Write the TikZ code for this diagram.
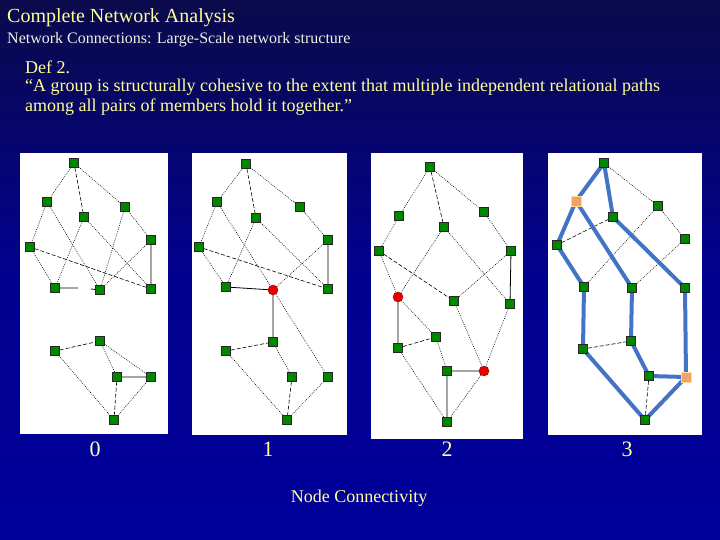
\documentclass[tikz,border=0pt]{standalone}
\usepackage{fontspec}
\setmainfont{Liberation Serif}
\usepackage{xcolor}
\usepackage{tikz}
\pgfdeclarelayer{back}
\pgfdeclarelayer{ties}
\pgfsetlayers{back,ties,main}
\definecolor{navytop}{RGB}{10,10,75}
\definecolor{navybot}{RGB}{0,0,155}
\definecolor{actorgreen}{RGB}{0,135,0}
\definecolor{cutred}{RGB}{232,0,0}
\definecolor{endorange}{RGB}{242,160,110}
\definecolor{endglow}{RGB}{255,225,130}
\definecolor{pathblue}{RGB}{68,114,196}
\definecolor{titleyellow}{RGB}{255,255,153}
\definecolor{subwhite}{RGB}{240,240,228}

\begin{document}
\begin{tikzpicture}[x=1pt,y=-1pt,
actor/.style={draw=black!85,fill=actorgreen,minimum size=9pt,inner sep=0pt,line width=0.5pt},
cut/.style={circle,draw=red!55!black,fill=cutred,minimum size=10pt,inner sep=0pt,line width=0.4pt},
endpt/.style={draw=endglow,fill=endorange,minimum size=10pt,inner sep=0pt,line width=0.8pt},
tie/.style={line width=0.6pt,dash pattern=on 0.8pt off 1.2pt},
tiedash/.style={line width=0.6pt,dash pattern=on 4pt off 2pt},
tiesolid/.style={line width=0.8pt},
route/.style={pathblue,line width=4pt,line join=round,line cap=round},
txt/.style={inner sep=0pt,anchor=base west}]
\begin{pgfonlayer}{back}
\shade[top color=navytop,bottom color=navybot,middle color=navybot!85!navytop] (0,0) rectangle (720,540);
\fill[white] (20,153) rectangle (168,434);
\fill[white] (192,153) rectangle (347,435);
\fill[white] (371,153) rectangle (523,439);
\fill[white] (548,153) rectangle (702,435);
\end{pgfonlayer}
\node[txt,titleyellow,font=\fontsize{20}{24}\selectfont] (title) at (7,23) {Complete Network Analysis};
\node[txt,subwhite,font=\fontsize{16}{19}\selectfont] (subtitle) at (7,44) {Network Connections: Large-Scale network structure};
\node[txt,titleyellow,font=\fontsize{18}{21}\selectfont] (def) at (25,74) {Def 2.};
\node[txt,titleyellow,font=\fontsize{18}{21}\selectfont] (quote1) at (25,92) {``A group is structurally cohesive to the extent that multiple independent relational paths};
\node[txt,titleyellow,font=\fontsize{18}{21}\selectfont] (quote2) at (25,112) {among all pairs of members hold it together.''};

% k = 0
\foreach \n/\x/\y in {a/74/163,b/47/202,c/84/217,d/125/207,e/151/240,f/30/247,g/55/288,h/100/290,i/151/289,
  j/55/351,k/100/341,l/117/377,m/151/377,n/114/420}
  \node[actor] (p0\n) at (\x,\y) {};
\coordinate (p0gl) at (78,288);
\coordinate (p0gr) at (91,289);
% k = 1
\foreach \n/\x/\y in {a/246/164,b/217/202,c/256/218,d/300/207,e/328/240,f/199/247,g/226/287,i/328/289,
  k/273/342,j/226/351,l/292/377,m/328/377,n/287/420}
  \node[actor] (p1\n) at (\x,\y) {};
\node[cut] (p1r) at (273,290) {};
% k = 2
\foreach \n/\x/\y in {a/430/167,b/399/216,d/484/212,c/444/227,f/379/251,e/511/251,g/454/301,i/510/304,
  k/436/337,j/398/348,l/447/371,n/447/422}
  \node[actor] (p2\n) at (\x,\y) {};
\node[cut] (p2r) at (398,297) {};
\node[cut] (p2s) at (484,371) {};
% k = 3
\foreach \n/\x/\y in {a/604/163,d/658/206,c/613/217,e/685/239,f/557/245,g/584/287,h/632/288,i/685/288,
  k/631/341,j/583/349,l/649/376,n/645/420}
  \node[actor] (p3\n) at (\x,\y) {};
\node[endpt] (p3o) at (576,201) {};
\node[endpt] (p3q) at (686,377) {};

\begin{pgfonlayer}{ties}
\foreach \s/\t in {a/b,a/d,b/f,b/h,c/g,c/i,d/h,d/e,e/h,f/g,j/n,k/l,k/m,m/n} \draw[tie] (p0\s)--(p0\t);
\foreach \s/\t in {a/c,f/i,j/k,l/n} \draw[tiedash] (p0\s)--(p0\t);
\draw[tiesolid] (p0e)--(p0i) (p0l)--(p0m) (p0g)--(p0gl) (p0gr)--(p0h);
\foreach \s/\t in {a/b,a/d,b/f,b/r,c/g,c/i,d/e,e/r,f/g,r/m,j/n,k/l,m/n} \draw[tie] (p1\s)--(p1\t);
\foreach \s/\t in {a/c,f/i,j/k,l/n} \draw[tiedash] (p1\s)--(p1\t);
\draw[tiesolid] (p1e)--(p1i) (p1g)--(p1r) (p1r)--(p1k);
\foreach \s/\t in {a/b,a/d,b/f,d/e,c/r,c/i,f/r,e/g,r/k,k/l,j/n,s/n,g/s,i/s} \draw[tie] (p2\s)--(p2\t);
\foreach \s/\t in {a/c,f/g,j/k} \draw[tiedash] (p2\s)--(p2\t);
\draw[tiesolid] (p2e)--(p2i) (p2r)--(p2j) (p2l)--(p2s) (p2l)--(p2n);
\foreach \s/\t in {a/d,d/e,d/g,e/h} \draw[tie] (p3\s)--(p3\t);
\foreach \s/\t in {f/c,j/k,l/n} \draw[tiedash] (p3\s)--(p3\t);
\draw[route] (p3o.center)--(p3a.center)--(p3c.center)--(p3i.center)--(p3q.center);
\draw[route] (p3o.center)--(p3f.center)--(p3g.center)--(p3j.center)--(p3n.center)--(p3q.center);
\draw[route] (p3o.center)--(p3h.center)--(p3k.center)--(p3l.center)--(p3q.center);
\end{pgfonlayer}

\node[txt,anchor=base,titleyellow!60!white,font=\fontsize{22}{26}\selectfont] (lab0) at (95,456) {0};
\node[txt,anchor=base,titleyellow,font=\fontsize{22}{26}\selectfont] (lab1) at (268,456) {1};
\node[txt,anchor=base,titleyellow,font=\fontsize{22}{26}\selectfont] (lab2) at (447,456) {2};
\node[txt,anchor=base,titleyellow,font=\fontsize{22}{26}\selectfont] (lab3) at (627,456) {3};
\node[txt,anchor=base,titleyellow,font=\fontsize{18}{22}\selectfont] (caption) at (359,502) {Node Connectivity};
\end{tikzpicture}
\end{document}
